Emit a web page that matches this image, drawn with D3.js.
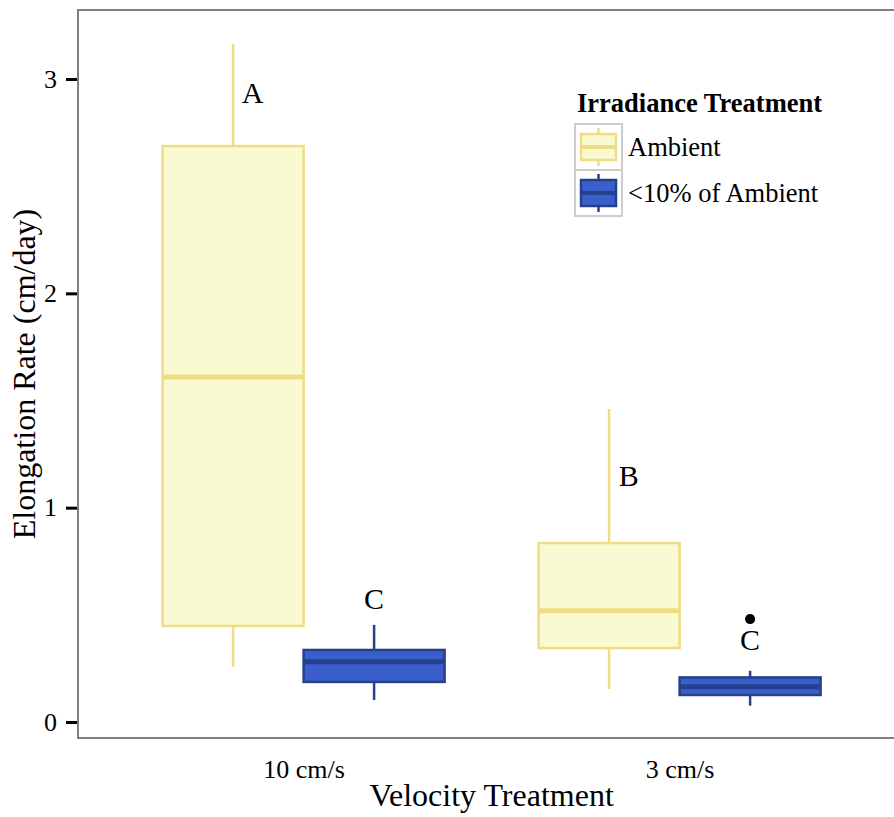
<!DOCTYPE html>
<html>
<head>
<meta charset="utf-8">
<script src="https://cdn.jsdelivr.net/npm/d3@7"></script>
<style>
  body { margin: 0; background: #fff; }
  text { font-family: "Liberation Serif", "DejaVu Serif", serif; }
</style>
</head>
<body>
<div id="chart"></div>
<script>
// data
const velocities = ["10 cm/s", "3 cm/s"];
const treatments = ["Ambient", "<10% of Ambient"];
// [lower whisker, Q1, median, Q3, upper whisker]
const ambientStats = [[0.257, 0.448, 1.61, 2.687, 3.163], [0.154, 0.345, 0.519, 0.835, 1.46]];
const shadedStats = [[0.103, 0.187, 0.281, 0.336, 0.453], [0.076, 0.126, 0.165, 0.208, 0.239]];
const outlierValues = [[], [0.48]]; // <10% of Ambient only
const letterLabels = ["A", "C", "B", "C"];
const letterValues = [2.89, 0.525, 1.10, 0.335];
const yTicks = [0, 1, 2, 3];

const WIDTH = 894;
const HEIGHT = 817;
const LEFT = 78, TOP = 10, BOTTOM = 738;
const UNIT = 376;

const fills = ["#fafad2", "#3a5fcd"];
const strokes = ["#eedd82", "#27408b"];

const svg = d3.select("#chart").append("svg")
  .attr("width", WIDTH)
  .attr("height", HEIGHT);

const x = d3.scaleLinear().domain([0.4, 2.6]).range([LEFT, LEFT + 2.2 * UNIT]);
const y = d3.scaleLinear().domain([-0.0747, 3.322]).range([BOTTOM, TOP]);

const boxW = 0.375; // each dodged box, in category units

// assemble boxes
const boxes = [];
velocities.forEach((v, i) => {
  [ambientStats, shadedStats].forEach((s, j) => {
    const st = s[i];
    boxes.push({
      vel: v, trt: j,
      center: (i + 1) + (j === 0 ? -boxW / 2 : boxW / 2),
      lo: st[0], q1: st[1], med: st[2], q3: st[3], hi: st[4],
      out: j === 1 ? outlierValues[i] : []
    });
  });
});

// panel
svg.append("rect")
  .attr("x", LEFT).attr("y", TOP)
  .attr("width", x(2.6) - LEFT).attr("height", BOTTOM - TOP)
  .attr("fill", "#fff");

const g = svg.append("g");

boxes.forEach(b => {
  const cx = x(b.center);
  const half = x(boxW / 2) - x(0);
  // whiskers
  g.append("line")
    .attr("x1", cx).attr("x2", cx)
    .attr("y1", y(b.hi)).attr("y2", y(b.q3))
    .attr("stroke", strokes[b.trt]).attr("stroke-width", 2.5);
  g.append("line")
    .attr("x1", cx).attr("x2", cx)
    .attr("y1", y(b.q1)).attr("y2", y(b.lo))
    .attr("stroke", strokes[b.trt]).attr("stroke-width", 2.5);
  // box
  g.append("rect")
    .attr("x", cx - half).attr("y", y(b.q3))
    .attr("width", half * 2).attr("height", y(b.q1) - y(b.q3))
    .attr("fill", fills[b.trt])
    .attr("stroke", strokes[b.trt]).attr("stroke-width", 2.5);
  // median
  g.append("line")
    .attr("x1", cx - half).attr("x2", cx + half)
    .attr("y1", y(b.med)).attr("y2", y(b.med))
    .attr("stroke", strokes[b.trt]).attr("stroke-width", 5);
  b.out.forEach(o => {
    g.append("circle")
      .attr("cx", cx).attr("cy", y(o)).attr("r", 5)
      .attr("fill", "#000");
  });
});

// significance letters
boxes.forEach((b, k) => {
  const dx = b.trt === 0 ? 0.052 : 0;
  g.append("text")
    .attr("x", x(b.center + dx))
    .attr("y", y(letterValues[k]))
    .attr("text-anchor", "middle")
    .attr("font-size", "30px")
    .text(letterLabels[k]);
});

// panel border
svg.append("rect")
  .attr("x", LEFT).attr("y", TOP)
  .attr("width", x(2.6) - LEFT).attr("height", BOTTOM - TOP)
  .attr("fill", "none")
  .attr("stroke", "#7f7f7f").attr("stroke-width", 2);

// y axis
const yAxis = d3.axisLeft(y).tickValues(yTicks).tickFormat(d3.format("d")).tickSize(11).tickPadding(9);
const yG = svg.append("g").attr("transform", `translate(${LEFT - 1},0)`).call(yAxis);
yG.select(".domain").remove();
yG.selectAll(".tick line").attr("stroke", "#000").attr("stroke-width", 3);
yG.selectAll(".tick text")
  .style("font-family", "'Liberation Serif', serif")
  .style("font-size", "26px").attr("fill", "#000");

// x axis
const xAxis = d3.axisBottom(x).tickValues([1, 2]).tickFormat((d) => velocities[d - 1]).tickSize(0).tickPadding(22);
const xG = svg.append("g").attr("transform", `translate(0,${BOTTOM})`).call(xAxis);
xG.select(".domain").remove();
xG.selectAll(".tick text")
  .style("font-family", "'Liberation Serif', serif")
  .style("font-size", "26px").attr("fill", "#000");

// axis titles
svg.append("text")
  .attr("x", x(1.5)).attr("y", 806)
  .attr("text-anchor", "middle")
  .attr("font-size", "32px")
  .text("Velocity Treatment");

svg.append("text")
  .attr("transform", `translate(35,${(TOP + BOTTOM) / 2}) rotate(-90)`)
  .attr("text-anchor", "middle")
  .attr("font-size", "32px")
  .text("Elongation Rate (cm/day)");

// legend
const legend = svg.append("g").attr("transform", "translate(575,0)");
legend.append("text")
  .attr("x", 2).attr("y", 112)
  .attr("font-size", "26.5px").attr("font-weight", "bold")
  .text("Irradiance Treatment");

treatments.forEach((t, j) => {
  const top = 124 + j * 46;
  const kg = legend.append("g").attr("transform", `translate(0,${top})`);
  kg.append("rect")
    .attr("x", 0).attr("y", 0).attr("width", 47).attr("height", 46)
    .attr("fill", "#fff").attr("stroke", "#cccccc").attr("stroke-width", 2);
  kg.append("line")
    .attr("x1", 23.5).attr("x2", 23.5).attr("y1", 4).attr("y2", 42)
    .attr("stroke", strokes[j]).attr("stroke-width", 2.5);
  kg.append("rect")
    .attr("x", 6).attr("y", 10).attr("width", 35).attr("height", 26)
    .attr("fill", fills[j]).attr("stroke", strokes[j]).attr("stroke-width", 2.5);
  kg.append("line")
    .attr("x1", 6).attr("x2", 41).attr("y1", 23).attr("y2", 23)
    .attr("stroke", strokes[j]).attr("stroke-width", 4);
  legend.append("text")
    .attr("x", 53).attr("y", top + 32)
    .attr("font-size", "26.5px")
    .text(t);
});
</script>
</body>
</html>
